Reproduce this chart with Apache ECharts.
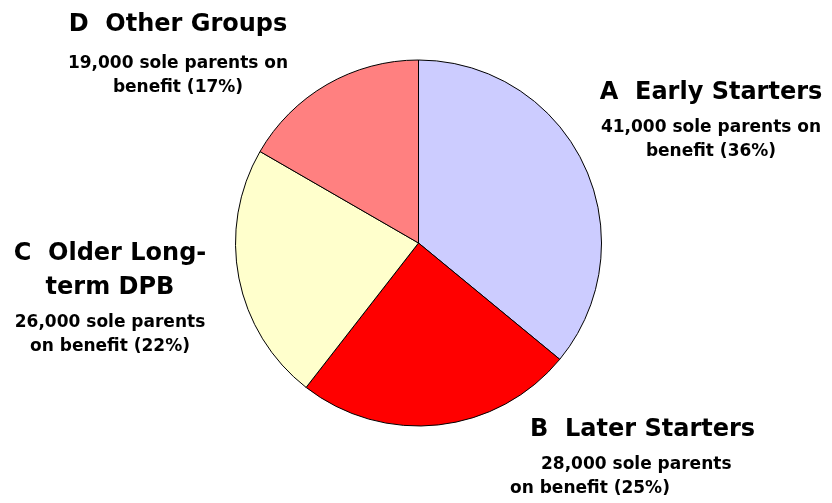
<!DOCTYPE html>
<html>
<head>
<meta charset="utf-8">
<style>
  html, body { margin: 0; padding: 0; background: #ffffff; }
  #chart { width: 832px; height: 503px; }
</style>
<script src="https://cdn.jsdelivr.net/npm/echarts@6/dist/echarts.min.js"></script>
</head>
<body>
<div id="chart"></div>
<script>
// Sole parents on benefit, by group
const groupNames = ['A  Early Starters', 'B  Later Starters', 'C  Older Long-\nterm DPB', 'D  Other Groups'];
const soleParents = [41000, 28000, 26000, 19000];
const sharePercent = [36, 25, 22, 17];

// Presentation: slice colours and label placement
const sliceColors = ['#CCCCFF', '#FF0000', '#FFFFCC', '#FF8080'];
const labelPlacement = [
  { x: 711, y: 75.5, align: 'center', breakBeforeOn: false, gap: 'g6' },
  { x: 510, y: 413, align: 'left', breakBeforeOn: true, gap: 'g6' },
  { x: 110, y: 237, align: 'center', breakBeforeOn: true, gap: 'g6' },
  { x: 178, y: 7.5, align: 'center', breakBeforeOn: false, gap: 'g10' }
];

const FONT = '"DejaVu Sans", "Liberation Sans", Arial, sans-serif';

function labelText(params) {
  const i = params.dataIndex;
  const p = labelPlacement[i];
  const left = p.align === 'left';
  const t = left ? 'tl' : 't';
  const count = soleParents[i].toLocaleString('en-US');
  const subLines = p.breakBeforeOn
    ? [count + ' sole parents', 'on benefit (' + sharePercent[i] + '%)']
    : [count + ' sole parents on', 'benefit (' + sharePercent[i] + '%)'];
  const titleLines = groupNames[i].split('\n');
  const out = titleLines.map(function (s) { return '{' + t + '|' + s + '}'; });
  out.push('{' + p.gap + '| }');
  if (left) {
    out.push('{s2|' + subLines[0] + '}');
    out.push('{sl|' + subLines[1] + '}');
  } else {
    subLines.forEach(function (s) { out.push('{s|' + s + '}'); });
  }
  return out.join('\n');
}

const chart = echarts.init(document.getElementById('chart'), null, { renderer: 'canvas' });

chart.setOption({
  backgroundColor: '#ffffff',
  animation: false,
  series: [{
    type: 'pie',
    center: [418.5, 243],
    radius: 183,
    startAngle: 90,
    clockwise: true,
    avoidLabelOverlap: false,
    emphasis: { disabled: true },
    itemStyle: { borderColor: '#000000', borderWidth: 1 },
    labelLine: { show: false },
    label: {
      show: true,
      position: 'outside',
      formatter: labelText,
      color: '#000000',
      fontFamily: FONT,
      fontWeight: 'bold',
      rich: {
        t:  { fontFamily: FONT, fontWeight: 'bold', fontSize: 24, lineHeight: 34, align: 'center', color: '#000' },
        tl: { fontFamily: FONT, fontWeight: 'bold', fontSize: 24, lineHeight: 34, align: 'left', padding: [0, 0, 0, 20], color: '#000' },
        s:  { fontFamily: FONT, fontWeight: 'bold', fontSize: 17, lineHeight: 24, align: 'center', color: '#000' },
        s2: { fontFamily: FONT, fontWeight: 'bold', fontSize: 17, lineHeight: 24, align: 'left', padding: [0, 0, 0, 31], color: '#000' },
        sl: { fontFamily: FONT, fontWeight: 'bold', fontSize: 17, lineHeight: 24, align: 'left', color: '#000' },
        g6:  { fontSize: 4, lineHeight: 6 },
        g10: { fontSize: 4, lineHeight: 10 }
      }
    },
    labelLayout: function (params) {
      const p = labelPlacement[params.dataIndex];
      return { x: p.x, y: p.y, align: p.align, verticalAlign: 'top', hideOverlap: false };
    },
    data: soleParents.map(function (v, i) {
      return { name: groupNames[i], value: v, itemStyle: { color: sliceColors[i] } };
    })
  }]
});
</script>
</body>
</html>
